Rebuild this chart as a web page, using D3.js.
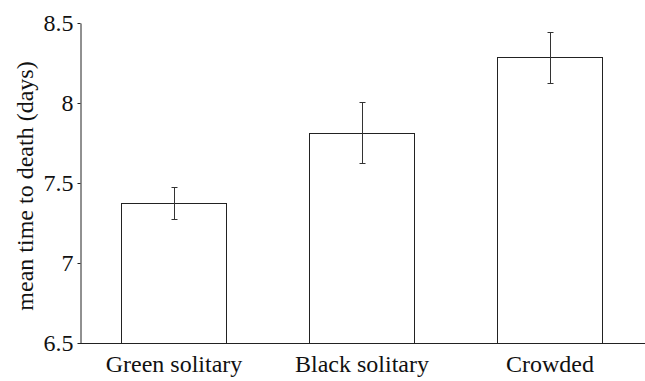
<!DOCTYPE html>
<html><head><meta charset="utf-8">
<script src="https://cdn.jsdelivr.net/npm/d3@7"></script>
</head>
<body style="margin:0;background:#fff">
<svg id="c" width="645" height="381" style="display:block"></svg>
<script>
const categories = ["Green solitary", "Black solitary", "Crowded"];
const means = [7.375, 7.815, 8.285];
const errors = [0.098, 0.192, 0.16];
const yTicks = [6.5, 7, 7.5, 8, 8.5];
const yTickLabels = ["6.5", "7", "7.5", "8", "8.5"];
const yTitle = "mean time to death (days)";

const FONT = "'Liberation Serif'";
const svg = d3.select("#c");
const mLeft = 80, mRight = 644, mTop = 23, mBottom = 343;

const x = d3.scaleBand().domain(categories).range([mLeft, mRight]).paddingInner(0.44).paddingOuter(0.22);
const y = d3.scaleLinear().domain([6.5, 8.5]).range([mBottom, mTop]);

// bars
svg.append("g").selectAll("rect").data(categories).join("rect")
  .attr("x", d => Math.round(x(d)) + 0.5)
  .attr("y", (d, i) => Math.round(y(means[i])) + 0.5)
  .attr("width", Math.round(x.bandwidth()))
  .attr("height", (d, i) => mBottom - Math.round(y(means[i])))
  .attr("fill", "#fff").attr("stroke", "#222").attr("stroke-width", 1);

// error bars
const eg = svg.append("g").attr("stroke", "#333").attr("stroke-width", 1);
categories.forEach((c, i) => {
  const cx = Math.round(x(c) + x.bandwidth() / 2) + 0.5;
  const y1 = Math.round(y(means[i] + errors[i])) + 0.5;
  const y2 = Math.round(y(means[i] - errors[i])) + 0.5;
  eg.append("line").attr("x1", cx).attr("x2", cx).attr("y1", y1).attr("y2", y2);
  eg.append("line").attr("x1", cx - 3).attr("x2", cx + 3).attr("y1", y1).attr("y2", y1);
  eg.append("line").attr("x1", cx - 3).attr("x2", cx + 3).attr("y1", y2).attr("y2", y2);
});

// y axis
const yAxis = d3.axisLeft(y).tickValues(yTicks).tickFormat((d, i) => yTickLabels[i]).tickSize(3).tickPadding(4).tickSizeOuter(0);
const ga = svg.append("g").attr("transform", `translate(${mLeft + 0.5},0)`).call(yAxis);
ga.attr("font-family", FONT).attr("font-size", 24);
ga.select(".domain").attr("stroke", "#222");
ga.selectAll(".tick line").attr("stroke", "#222");
ga.selectAll(".tick text").style("font-family", FONT).style("font-size", "24px").attr("fill", "#111");

// x axis line
svg.append("line").attr("x1", mLeft).attr("x2", 645).attr("y1", mBottom + 0.5).attr("y2", mBottom + 0.5).attr("stroke", "#222");

// category labels
svg.append("g").selectAll("text").data(categories).join("text")
  .attr("x", d => x(d) + x.bandwidth() / 2)
  .attr("y", 372)
  .attr("text-anchor", "middle")
  .style("font-family", FONT).style("font-size", "24px").attr("fill", "#111")
  .text(d => d);

// y title
svg.append("text").attr("transform", `translate(33,${(mTop + mBottom) / 2 + 3}) rotate(-90)`)
  .attr("text-anchor", "middle")
  .style("font-family", FONT).style("font-size", "24px").attr("fill", "#111")
  .text(yTitle);
</script>
</body></html>
